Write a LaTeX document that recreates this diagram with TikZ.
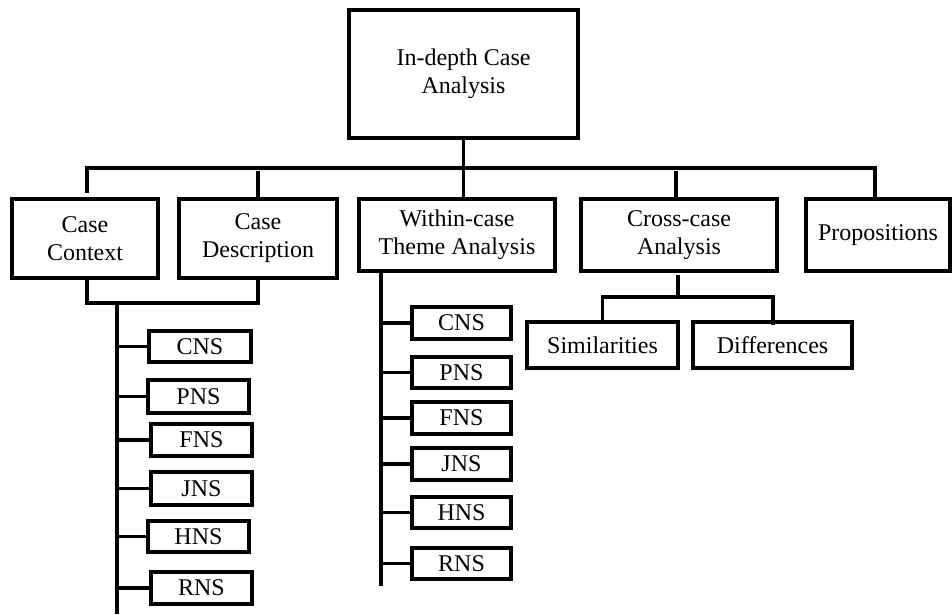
\documentclass[tikz,border=0pt]{standalone}
\usepackage{fontspec}
\setmainfont{Liberation Serif}
\begin{document}
\begin{tikzpicture}[x=0.75pt,y=-0.75pt,
  box/.style={draw,line width=2.3pt,inner sep=0pt,align=center,
    font=\fontsize{18}{21}\selectfont},
  bx/.style args={#1/#2/#3/#4}{at={({(#1+#3)/2},{(#2+#4)/2})},
    minimum width={(#3-#1)*0.75pt}, minimum height={(#4-#2)*0.75pt}},
  conn/.style={line width=2.3pt}]
\useasboundingbox (0,0) rectangle (952,614);
% main boxes
\node[box,bx=349/10/578/138] (top) {In-depth Case\\Analysis};
\node[box,bx=12/199/158/278] (cc) {Case\\Context};
\node[box,bx=179/199/337/278] (cd) {Case\\Description};
\node[box,bx=359/199/555/271] (wc) {Within-case\\Theme Analysis};
\node[box,bx=581/199/777/271] (cx) {Cross-case\\Analysis};
\node[box,bx=806/199/950/271] (pr) {Propositions};
\node[box,bx=527/322/678/368] (sim) {Similarities};
\node[box,bx=693/322/852/368] (dif) {Differences};
% left leaves
\node[box,bx=149/331/251/362] (l1) {CNS};
\node[box,bx=148/380/249/413] (l2) {PNS};
\node[box,bx=151/424/252/456] (l3) {FNS};
\node[box,bx=151/472/252/505] (l4) {JNS};
\node[box,bx=148/521/249/552] (l5) {HNS};
\node[box,bx=151/572/252/604] (l6) {RNS};
% middle leaves
\node[box,bx=412/307/511/339] (m1) {CNS};
\node[box,bx=412/357/511/388] (m2) {PNS};
\node[box,bx=412/402/511/434] (m3) {FNS};
\node[box,bx=412/448/511/480] (m4) {JNS};
\node[box,bx=412/497/511/528] (m5) {HNS};
\node[box,bx=412/548/511/579] (m6) {RNS};
% top bus
\coordinate (b1) at (87,193);
\coordinate (busR) at (875,168);
\draw[conn] (b1) |- (busR) -- (busR |- pr.north);
\draw[conn] (top.south) -- (top.south |- wc.north);
\draw[conn] (cd.north) -- ++(0,-26);
\draw[conn] ([xshift=-2.25pt]cx.north) -- ++(0,-26);
% case context/description bracket
\coordinate (lv0) at (117,303);
\coordinate (lv1) at (117,614);
\draw[conn] ([xshift=1.5pt]cc.south) |- (lv0) -| (cd.south);
\draw[conn] (lv0) -- (lv1);
\foreach \n in {l1,l2,l3,l4,l5,l6}
  \draw[conn] (lv0 |- \n.west) -- (\n.west);
% within-case column
\coordinate (mv0) at (381,271);
\coordinate (mv1) at (381,586);
\draw[conn] (mv0) -- (mv1);
\foreach \n in {m1,m2,m3,m4,m5,m6}
  \draw[conn] (mv0 |- \n.west) -- (\n.west);
% cross-case split
\coordinate (cx0) at (678,275);
\coordinate (cx1) at (678,297);
\draw[conn] (cx0) -- (cx1);
\draw[conn] ([yshift=-3pt]sim.north) |- (cx1) -| ([yshift=-3.5pt]dif.north -| 773,0);
\end{tikzpicture}
\end{document}
